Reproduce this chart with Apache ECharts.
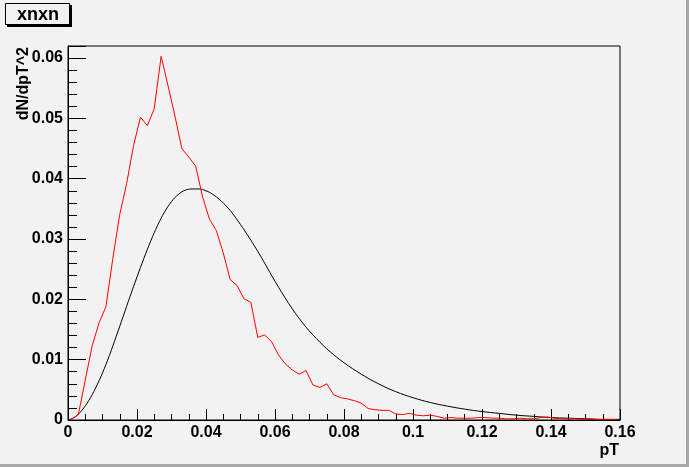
<!DOCTYPE html>
<html>
<head>
<meta charset="utf-8">
<script src="https://cdn.jsdelivr.net/npm/echarts@6/dist/echarts.min.js"></script>
<style>
html,body{margin:0;padding:0;background:#f2f2f2;}
#chart{width:689px;height:467px;}
</style>
</head>
<body>
<div id="chart"></div>
<script>
// Histogram (red): bin centres and contents
const binCenters = [0.001,0.003,0.005,0.007,0.009,0.011,0.013,0.015,0.017,0.019,
0.021,0.023,0.025,0.027,0.029,0.031,0.033,0.035,0.037,0.039,
0.041,0.043,0.045,0.047,0.049,0.051,0.053,0.055,0.057,0.059,
0.061,0.063,0.065,0.067,0.069,0.071,0.073,0.075,0.077,0.079,
0.081,0.083,0.085,0.087,0.089,0.091,0.093,0.095,0.097,0.099,
0.101,0.103,0.105,0.107,0.109,0.111,0.113,0.115,0.117,0.119,
0.121,0.123,0.125,0.127,0.129,0.131,0.133,0.135,0.137,0.139,
0.141,0.143,0.145,0.147,0.149,0.151,0.153,0.155,0.157,0.159];
const histValues = [0.0001,0.0009,0.0066,0.0123,0.0161,0.0188,0.0268,0.0341,0.0392,0.0455,
0.0502,0.0488,0.0516,0.0603,0.0554,0.0504,0.0450,0.0436,0.0421,0.0370,
0.0333,0.0314,0.0277,0.0233,0.0223,0.0201,0.0195,0.0137,0.0141,0.0130,
0.0108,0.0093,0.0083,0.0076,0.0082,0.0058,0.0054,0.0060,0.0042,0.0037,
0.0035,0.0032,0.0028,0.0019,0.0017,0.0016,0.0016,0.0010,0.0009,0.0011,
0.0008,0.0007,0.0008,0.0006,0.0003,0.0004,0.0003,0.0003,0.0003,0.0004,
0.0004,0.0003,0.0003,0.0002,0.0002,0.0003,0.0002,0.0002,0.0004,0.0005,
0.0003,0.0002,0.0002,0.0002,0.0001,0.0002,0.0001,0.0001,0.0001,0.0001];

// Model curve (black)
const curveX = [0,0.002,0.004,0.006,0.008,0.010,0.012,0.014,0.016,0.018,
0.020,0.022,0.024,0.026,0.028,0.030,0.032,0.034,0.036,0.038,
0.040,0.042,0.044,0.046,0.048,0.050,0.052,0.054,0.056,0.058,
0.060,0.064,0.068,0.072,0.076,0.080,0.085,0.090,0.095,0.100,
0.105,0.110,0.115,0.120,0.125,0.130,0.135,0.140,0.145,0.150,0.155,0.160];
const curveY = [0,0.0005,0.0016,0.0032,0.0053,0.0078,0.0107,0.0139,0.0172,0.0205,
0.0237,0.0268,0.0297,0.0323,0.0345,0.0362,0.0374,0.0381,0.0383,0.0383,
0.0380,0.0374,0.0365,0.0354,0.0340,0.0324,0.0307,0.0289,0.0270,0.0250,
0.0230,0.0193,0.0161,0.0135,0.0113,0.0095,0.0076,0.0060,0.0047,0.0037,
0.0029,0.0023,0.0018,0.0014,0.0011,0.0008,0.0006,0.0004,0.0003,0.0002,0.0001,0.0001];

const title = 'xnxn';
const xName = 'pT';
const yName = 'dN/dpT^2';

const FONT = '"Liberation Sans", Arial, Helvetica, sans-serif';
const chart = echarts.init(document.getElementById('chart'), null, {renderer:'canvas'});

const zip = (a,b) => a.map((v,i)=>[v,b[i]]);

chart.setOption({
  backgroundColor: '#f2f2f2',
  animation: false,
  grid: {left: 68, right: 69, top: 46, bottom: 47, show: true, borderColor: '#000', borderWidth: 1, backgroundColor: '#f2f2f2'},
  xAxis: {
    type: 'value', min: 0, max: 0.16, interval: 0.02,
    axisLine: {show: true, onZero: false, lineStyle: {color: '#000', width: 1}},
    axisTick: {show: true, inside: true, length: 11, lineStyle: {color: '#000'}},
    minorTick: {show: true, splitNumber: 4, length: 6, lineStyle: {color: '#000'}},
    splitLine: {show: false},
    axisLabel: {color: '#000', fontFamily: FONT, fontWeight: 'bold', fontSize: 16, margin: 5,
      formatter: v => String(+v.toFixed(4))}
  },
  yAxis: {
    type: 'value', min: 0, max: 0.062, interval: 0.01,
    axisLine: {show: true, onZero: false, lineStyle: {color: '#000', width: 1}},
    axisTick: {show: true, inside: true, length: 18, lineStyle: {color: '#000'}},
    minorTick: {show: true, splitNumber: 5, length: 9, lineStyle: {color: '#000'}},
    splitLine: {show: false},
    axisLabel: {color: '#000', fontFamily: FONT, fontWeight: 'bold', fontSize: 16, margin: 5,
      showMaxLabel: false,
      formatter: v => (v > 0.0615 ? '' : String(+v.toFixed(4)))}
  },
  series: [
    {type: 'line', data: zip(curveX, curveY), smooth: 0.4, showSymbol: false, symbol: 'none',
      lineStyle: {color: '#000', width: 1}, z: 2},
    {type: 'line', data: zip(binCenters, histValues), showSymbol: false, symbol: 'none',
      lineStyle: {color: '#ff0000', width: 1}, z: 3}
  ],
  graphic: [
    {type: 'rect', shape: {x: 7, y: 5, width: 65, height: 22}, style: {fill: '#000'}, silent: true},
    {type: 'rect', shape: {x: 5.5, y: 3.5, width: 64, height: 21}, style: {fill: '#f2f2f2', stroke: '#000', lineWidth: 1}, silent: true},
    {type: 'text', x: 38, y: 15, style: {text: title, font: 'bold 18px ' + FONT, fill: '#000', textAlign: 'center', textVerticalAlign: 'middle'}, silent: true},
    {type: 'text', x: 24, y: 47, rotation: Math.PI/2, style: {text: yName, font: 'bold 16px ' + FONT, fill: '#000', textAlign: 'right', textVerticalAlign: 'middle'}, silent: true},
    {type: 'text', x: 619, y: 451, style: {text: xName, font: 'bold 16px ' + FONT, fill: '#000', textAlign: 'right', textVerticalAlign: 'middle'}, silent: true},
    {type: 'rect', shape: {x: 0, y: 464, width: 689, height: 3}, style: {fill: '#a8a8a8'}, silent: true},
    {type: 'rect', shape: {x: 686, y: 0, width: 3, height: 467}, style: {fill: '#a8a8a8'}, silent: true}
  ]
});
</script>
</body>
</html>
